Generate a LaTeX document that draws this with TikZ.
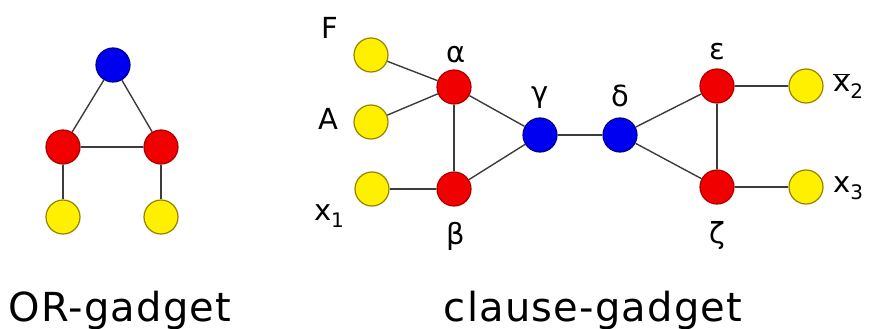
\documentclass[tikz,border=0pt]{standalone}
\usepackage{fontspec}
\setmainfont{DejaVu Sans}
\newcommand{\subsc}[1]{\raisebox{-7pt}{\fontsize{20}{22}\selectfont #1}}
\begin{document}
\begin{tikzpicture}[x=1pt,y=-1pt,
  vtx/.style={circle,minimum size=34pt,inner sep=0pt,line width=1.2pt},
  yelnode/.style={vtx,fill={rgb,255:red,255;green,240;blue,0},draw={rgb,255:red,150;green,130;blue,0}},
  rednode/.style={vtx,fill={rgb,255:red,240;green,0;blue,0},draw={rgb,255:red,170;green,0;blue,0}},
  blunode/.style={vtx,fill={rgb,255:red,0;green,0;blue,240},draw={rgb,255:red,0;green,0;blue,140}},
  edge/.style={draw={rgb,255:red,60;green,60;blue,60},line width=1.4pt},
  lab/.style={font=\fontsize{29}{32}\selectfont,inner sep=0pt},
  captext/.style={font=\fontsize{40}{44}\selectfont\addfontfeature{LetterSpace=3},inner sep=0pt,anchor=base}]
\useasboundingbox (0,0) rectangle (873,329);
% OR gadget
\node[blunode] (ob) at (113,65) {};
\node[rednode] (orl) at (63,147) {};
\node[rednode] (orr) at (161,147) {};
\node[yelnode] (oyl) at (63,217) {};
\node[yelnode] (oyr) at (161,217) {};
% clause gadget
\node[yelnode] (yF) at (371,55) {};
\node[yelnode] (yA) at (371,122) {};
\node[yelnode] (yx) at (372,189) {};
\node[rednode] (al) at (454,87) {};
\node[rednode] (be) at (454,189) {};
\node[blunode] (ga) at (540,135) {};
\node[blunode] (de) at (620,135) {};
\node[rednode] (ep) at (717,86) {};
\node[rednode] (ze) at (717,187) {};
\node[yelnode] (y2) at (806,86) {};
\node[yelnode] (y3) at (806,187) {};
% edges
\draw[edge] (ob) -- (orl);
\draw[edge] (ob) -- (orr);
\draw[edge] (orl) -- (orr);
\draw[edge] (orl) -- (oyl);
\draw[edge] (orr) -- (oyr);
\draw[edge] (yF) -- (al);
\draw[edge] (yA) -- (al);
\draw[edge] (yx) -- (be);
\draw[edge] (al) -- (be);
\draw[edge] (al) -- (ga);
\draw[edge] (be) -- (ga);
\draw[edge] (ga) -- (de);
\draw[edge] (de) -- (ep);
\draw[edge] (de) -- (ze);
\draw[edge] (ep) -- (ze);
\draw[edge] (ep) -- (y2);
\draw[edge] (ze) -- (y3);
% labels
\node[lab] (lF) at (330,28) {F};
\node[lab] (lA) at (328,119) {A};
\node[lab] (lx1) at (329,216) {x\subsc{1}};
\node[lab] (lal) at (456,55) {α};
\node[lab] (lbe) at (456,236) {β};
\node[lab] (lga) at (540,98) {γ};
\node[lab] (lde) at (620,96) {δ};
\node[lab] (lep) at (717,52) {ε};
\node[lab] (lze) at (717,236) {ζ};
\node[lab,anchor=west] (lx2) at (833,86) {$\overline{\mbox{x}}$\subsc{2}};
\node[lab,anchor=west] (lx3) at (833,188) {x\subsc{3}};
\node[captext] (c1) at (120,321) {OR-gadget};
\node[captext] (c2) at (593,321) {clause-gadget};
\end{tikzpicture}
\end{document}
